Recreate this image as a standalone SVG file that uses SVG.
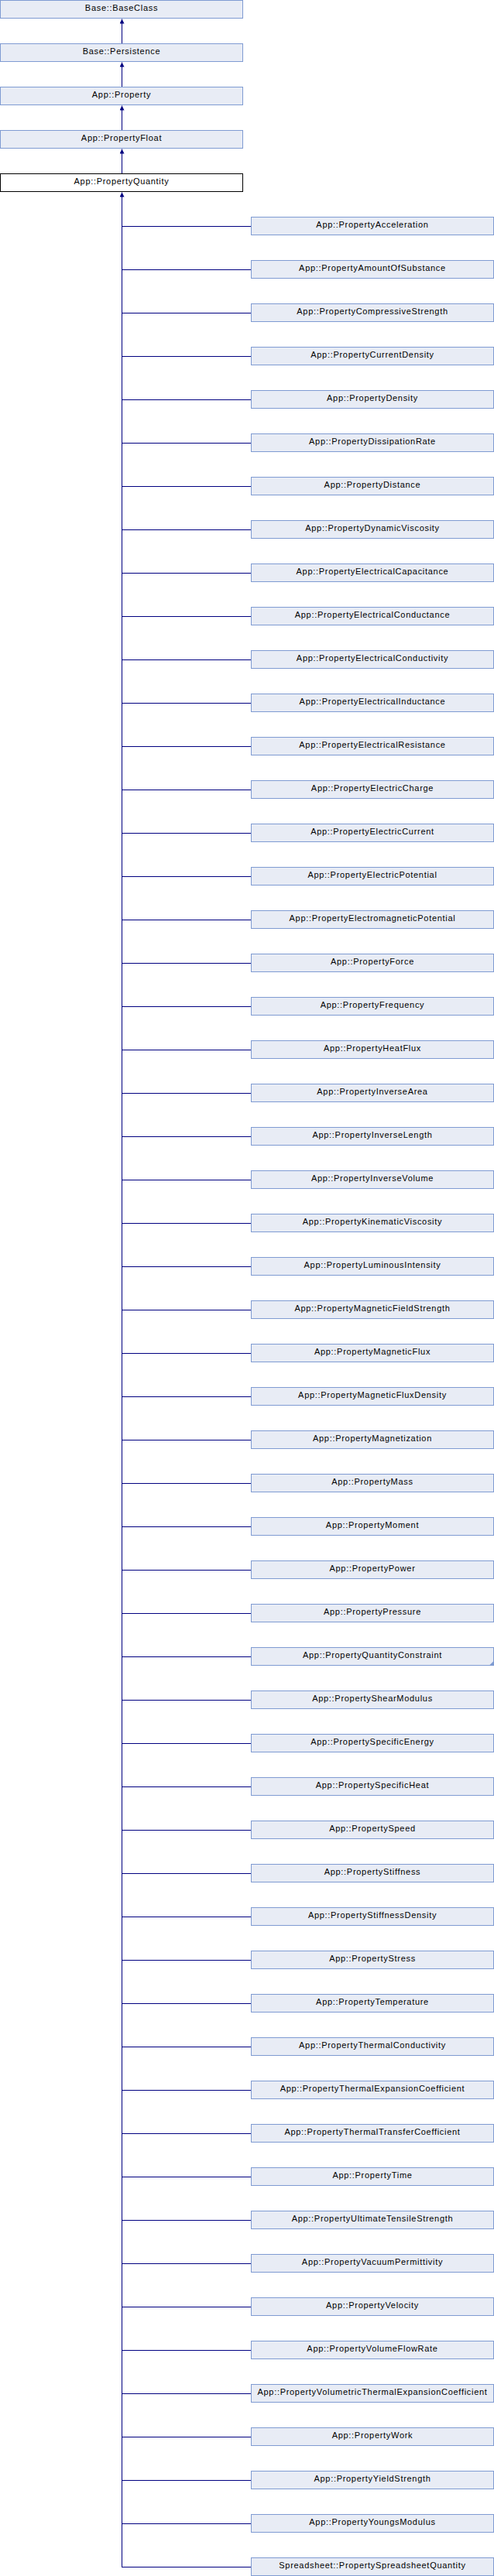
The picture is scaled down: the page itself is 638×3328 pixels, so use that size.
<svg xmlns="http://www.w3.org/2000/svg" width="638" height="3328" viewBox="0 0 638 3328">
<style>
.n rect{fill:#e8ecf5;stroke:#7f9bd2;stroke-width:1}
.n.cur rect{fill:#ffffff;stroke:#000000}
.n text{font-family:"Liberation Sans",Arial,sans-serif;font-size:11px;letter-spacing:0.7px;fill:#000;text-anchor:middle}
.c line{stroke:#000080;stroke-width:1;fill:none}
.fold{fill:#7f9bd2}
</style>
<defs>
<marker id="ah" markerWidth="6" markerHeight="7" refX="3" refY="0" orient="0" markerUnits="userSpaceOnUse" viewBox="0 0 6 7">
<path d="M0,6 L3,0 L6,6 Z" fill="#000080"/>
</marker>
</defs>
<g class="c" id="connectors">
<line x1="157.5" y1="80" x2="157.5" y2="24.5" marker-end="url(#ah)"/>
<line x1="157.5" y1="136" x2="157.5" y2="80.5" marker-end="url(#ah)"/>
<line x1="157.5" y1="192" x2="157.5" y2="136.5" marker-end="url(#ah)"/>
<line x1="157.5" y1="248" x2="157.5" y2="192.5" marker-end="url(#ah)"/>
<line x1="157.5" y1="3316.5" x2="157.5" y2="248.5" marker-end="url(#ah)"/>
<line x1="157" y1="292.5" x2="324" y2="292.5"/>
<line x1="157" y1="348.5" x2="324" y2="348.5"/>
<line x1="157" y1="404.5" x2="324" y2="404.5"/>
<line x1="157" y1="460.5" x2="324" y2="460.5"/>
<line x1="157" y1="516.5" x2="324" y2="516.5"/>
<line x1="157" y1="572.5" x2="324" y2="572.5"/>
<line x1="157" y1="628.5" x2="324" y2="628.5"/>
<line x1="157" y1="684.5" x2="324" y2="684.5"/>
<line x1="157" y1="740.5" x2="324" y2="740.5"/>
<line x1="157" y1="796.5" x2="324" y2="796.5"/>
<line x1="157" y1="852.5" x2="324" y2="852.5"/>
<line x1="157" y1="908.5" x2="324" y2="908.5"/>
<line x1="157" y1="964.5" x2="324" y2="964.5"/>
<line x1="157" y1="1020.5" x2="324" y2="1020.5"/>
<line x1="157" y1="1076.5" x2="324" y2="1076.5"/>
<line x1="157" y1="1132.5" x2="324" y2="1132.5"/>
<line x1="157" y1="1188.5" x2="324" y2="1188.5"/>
<line x1="157" y1="1244.5" x2="324" y2="1244.5"/>
<line x1="157" y1="1300.5" x2="324" y2="1300.5"/>
<line x1="157" y1="1356.5" x2="324" y2="1356.5"/>
<line x1="157" y1="1412.5" x2="324" y2="1412.5"/>
<line x1="157" y1="1468.5" x2="324" y2="1468.5"/>
<line x1="157" y1="1524.5" x2="324" y2="1524.5"/>
<line x1="157" y1="1580.5" x2="324" y2="1580.5"/>
<line x1="157" y1="1636.5" x2="324" y2="1636.5"/>
<line x1="157" y1="1692.5" x2="324" y2="1692.5"/>
<line x1="157" y1="1748.5" x2="324" y2="1748.5"/>
<line x1="157" y1="1804.5" x2="324" y2="1804.5"/>
<line x1="157" y1="1860.5" x2="324" y2="1860.5"/>
<line x1="157" y1="1916.5" x2="324" y2="1916.5"/>
<line x1="157" y1="1972.5" x2="324" y2="1972.5"/>
<line x1="157" y1="2028.5" x2="324" y2="2028.5"/>
<line x1="157" y1="2084.5" x2="324" y2="2084.5"/>
<line x1="157" y1="2140.5" x2="324" y2="2140.5"/>
<line x1="157" y1="2196.5" x2="324" y2="2196.5"/>
<line x1="157" y1="2252.5" x2="324" y2="2252.5"/>
<line x1="157" y1="2308.5" x2="324" y2="2308.5"/>
<line x1="157" y1="2364.5" x2="324" y2="2364.5"/>
<line x1="157" y1="2420.5" x2="324" y2="2420.5"/>
<line x1="157" y1="2476.5" x2="324" y2="2476.5"/>
<line x1="157" y1="2532.5" x2="324" y2="2532.5"/>
<line x1="157" y1="2588.5" x2="324" y2="2588.5"/>
<line x1="157" y1="2644.5" x2="324" y2="2644.5"/>
<line x1="157" y1="2700.5" x2="324" y2="2700.5"/>
<line x1="157" y1="2756.5" x2="324" y2="2756.5"/>
<line x1="157" y1="2812.5" x2="324" y2="2812.5"/>
<line x1="157" y1="2868.5" x2="324" y2="2868.5"/>
<line x1="157" y1="2924.5" x2="324" y2="2924.5"/>
<line x1="157" y1="2980.5" x2="324" y2="2980.5"/>
<line x1="157" y1="3036.5" x2="324" y2="3036.5"/>
<line x1="157" y1="3092.5" x2="324" y2="3092.5"/>
<line x1="157" y1="3148.5" x2="324" y2="3148.5"/>
<line x1="157" y1="3204.5" x2="324" y2="3204.5"/>
<line x1="157" y1="3260.5" x2="324" y2="3260.5"/>
<line x1="157" y1="3316.5" x2="324" y2="3316.5"/>
</g>
<g id="n_baseclass" class="n"><rect x="0.5" y="0.5" width="313" height="23"/><text x="157" y="14">Base::BaseClass</text></g>
<g id="n_persistence" class="n"><rect x="0.5" y="56.5" width="313" height="23"/><text x="157" y="70">Base::Persistence</text></g>
<g id="n_property" class="n"><rect x="0.5" y="112.5" width="313" height="23"/><text x="157" y="126">App::Property</text></g>
<g id="n_float" class="n"><rect x="0.5" y="168.5" width="313" height="23"/><text x="157" y="182">App::PropertyFloat</text></g>
<g id="n_quantity" class="n cur"><rect x="0.5" y="224.5" width="313" height="23"/><text x="157" y="238">App::PropertyQuantity</text></g>
<g id="c01" class="n"><rect x="324.5" y="280.5" width="313" height="23"/><text x="481" y="294">App::PropertyAcceleration</text></g>
<g id="c02" class="n"><rect x="324.5" y="336.5" width="313" height="23"/><text x="481" y="350">App::PropertyAmountOfSubstance</text></g>
<g id="c03" class="n"><rect x="324.5" y="392.5" width="313" height="23"/><text x="481" y="406">App::PropertyCompressiveStrength</text></g>
<g id="c04" class="n"><rect x="324.5" y="448.5" width="313" height="23"/><text x="481" y="462">App::PropertyCurrentDensity</text></g>
<g id="c05" class="n"><rect x="324.5" y="504.5" width="313" height="23"/><text x="481" y="518">App::PropertyDensity</text></g>
<g id="c06" class="n"><rect x="324.5" y="560.5" width="313" height="23"/><text x="481" y="574">App::PropertyDissipationRate</text></g>
<g id="c07" class="n"><rect x="324.5" y="616.5" width="313" height="23"/><text x="481" y="630">App::PropertyDistance</text></g>
<g id="c08" class="n"><rect x="324.5" y="672.5" width="313" height="23"/><text x="481" y="686">App::PropertyDynamicViscosity</text></g>
<g id="c09" class="n"><rect x="324.5" y="728.5" width="313" height="23"/><text x="481" y="742">App::PropertyElectricalCapacitance</text></g>
<g id="c10" class="n"><rect x="324.5" y="784.5" width="313" height="23"/><text x="481" y="798">App::PropertyElectricalConductance</text></g>
<g id="c11" class="n"><rect x="324.5" y="840.5" width="313" height="23"/><text x="481" y="854">App::PropertyElectricalConductivity</text></g>
<g id="c12" class="n"><rect x="324.5" y="896.5" width="313" height="23"/><text x="481" y="910">App::PropertyElectricalInductance</text></g>
<g id="c13" class="n"><rect x="324.5" y="952.5" width="313" height="23"/><text x="481" y="966">App::PropertyElectricalResistance</text></g>
<g id="c14" class="n"><rect x="324.5" y="1008.5" width="313" height="23"/><text x="481" y="1022">App::PropertyElectricCharge</text></g>
<g id="c15" class="n"><rect x="324.5" y="1064.5" width="313" height="23"/><text x="481" y="1078">App::PropertyElectricCurrent</text></g>
<g id="c16" class="n"><rect x="324.5" y="1120.5" width="313" height="23"/><text x="481" y="1134">App::PropertyElectricPotential</text></g>
<g id="c17" class="n"><rect x="324.5" y="1176.5" width="313" height="23"/><text x="481" y="1190">App::PropertyElectromagneticPotential</text></g>
<g id="c18" class="n"><rect x="324.5" y="1232.5" width="313" height="23"/><text x="481" y="1246">App::PropertyForce</text></g>
<g id="c19" class="n"><rect x="324.5" y="1288.5" width="313" height="23"/><text x="481" y="1302">App::PropertyFrequency</text></g>
<g id="c20" class="n"><rect x="324.5" y="1344.5" width="313" height="23"/><text x="481" y="1358">App::PropertyHeatFlux</text></g>
<g id="c21" class="n"><rect x="324.5" y="1400.5" width="313" height="23"/><text x="481" y="1414">App::PropertyInverseArea</text></g>
<g id="c22" class="n"><rect x="324.5" y="1456.5" width="313" height="23"/><text x="481" y="1470">App::PropertyInverseLength</text></g>
<g id="c23" class="n"><rect x="324.5" y="1512.5" width="313" height="23"/><text x="481" y="1526">App::PropertyInverseVolume</text></g>
<g id="c24" class="n"><rect x="324.5" y="1568.5" width="313" height="23"/><text x="481" y="1582">App::PropertyKinematicViscosity</text></g>
<g id="c25" class="n"><rect x="324.5" y="1624.5" width="313" height="23"/><text x="481" y="1638">App::PropertyLuminousIntensity</text></g>
<g id="c26" class="n"><rect x="324.5" y="1680.5" width="313" height="23"/><text x="481" y="1694">App::PropertyMagneticFieldStrength</text></g>
<g id="c27" class="n"><rect x="324.5" y="1736.5" width="313" height="23"/><text x="481" y="1750">App::PropertyMagneticFlux</text></g>
<g id="c28" class="n"><rect x="324.5" y="1792.5" width="313" height="23"/><text x="481" y="1806">App::PropertyMagneticFluxDensity</text></g>
<g id="c29" class="n"><rect x="324.5" y="1848.5" width="313" height="23"/><text x="481" y="1862">App::PropertyMagnetization</text></g>
<g id="c30" class="n"><rect x="324.5" y="1904.5" width="313" height="23"/><text x="481" y="1918">App::PropertyMass</text></g>
<g id="c31" class="n"><rect x="324.5" y="1960.5" width="313" height="23"/><text x="481" y="1974">App::PropertyMoment</text></g>
<g id="c32" class="n"><rect x="324.5" y="2016.5" width="313" height="23"/><text x="481" y="2030">App::PropertyPower</text></g>
<g id="c33" class="n"><rect x="324.5" y="2072.5" width="313" height="23"/><text x="481" y="2086">App::PropertyPressure</text></g>
<g id="c34" class="n"><rect x="324.5" y="2128.5" width="313" height="23"/><text x="481" y="2142">App::PropertyQuantityConstraint</text><path class="fold" d="M637.5,2146 L637.5,2151.5 L632,2151.5 Z"/></g>
<g id="c35" class="n"><rect x="324.5" y="2184.5" width="313" height="23"/><text x="481" y="2198">App::PropertyShearModulus</text></g>
<g id="c36" class="n"><rect x="324.5" y="2240.5" width="313" height="23"/><text x="481" y="2254">App::PropertySpecificEnergy</text></g>
<g id="c37" class="n"><rect x="324.5" y="2296.5" width="313" height="23"/><text x="481" y="2310">App::PropertySpecificHeat</text></g>
<g id="c38" class="n"><rect x="324.5" y="2352.5" width="313" height="23"/><text x="481" y="2366">App::PropertySpeed</text></g>
<g id="c39" class="n"><rect x="324.5" y="2408.5" width="313" height="23"/><text x="481" y="2422">App::PropertyStiffness</text></g>
<g id="c40" class="n"><rect x="324.5" y="2464.5" width="313" height="23"/><text x="481" y="2478">App::PropertyStiffnessDensity</text></g>
<g id="c41" class="n"><rect x="324.5" y="2520.5" width="313" height="23"/><text x="481" y="2534">App::PropertyStress</text></g>
<g id="c42" class="n"><rect x="324.5" y="2576.5" width="313" height="23"/><text x="481" y="2590">App::PropertyTemperature</text></g>
<g id="c43" class="n"><rect x="324.5" y="2632.5" width="313" height="23"/><text x="481" y="2646">App::PropertyThermalConductivity</text></g>
<g id="c44" class="n"><rect x="324.5" y="2688.5" width="313" height="23"/><text x="481" y="2702">App::PropertyThermalExpansionCoefficient</text></g>
<g id="c45" class="n"><rect x="324.5" y="2744.5" width="313" height="23"/><text x="481" y="2758">App::PropertyThermalTransferCoefficient</text></g>
<g id="c46" class="n"><rect x="324.5" y="2800.5" width="313" height="23"/><text x="481" y="2814">App::PropertyTime</text></g>
<g id="c47" class="n"><rect x="324.5" y="2856.5" width="313" height="23"/><text x="481" y="2870">App::PropertyUltimateTensileStrength</text></g>
<g id="c48" class="n"><rect x="324.5" y="2912.5" width="313" height="23"/><text x="481" y="2926">App::PropertyVacuumPermittivity</text></g>
<g id="c49" class="n"><rect x="324.5" y="2968.5" width="313" height="23"/><text x="481" y="2982">App::PropertyVelocity</text></g>
<g id="c50" class="n"><rect x="324.5" y="3024.5" width="313" height="23"/><text x="481" y="3038">App::PropertyVolumeFlowRate</text></g>
<g id="c51" class="n"><rect x="324.5" y="3080.5" width="313" height="23"/><text x="481" y="3094">App::PropertyVolumetricThermalExpansionCoefficient</text></g>
<g id="c52" class="n"><rect x="324.5" y="3136.5" width="313" height="23"/><text x="481" y="3150">App::PropertyWork</text></g>
<g id="c53" class="n"><rect x="324.5" y="3192.5" width="313" height="23"/><text x="481" y="3206">App::PropertyYieldStrength</text></g>
<g id="c54" class="n"><rect x="324.5" y="3248.5" width="313" height="23"/><text x="481" y="3262">App::PropertyYoungsModulus</text></g>
<g id="c55" class="n"><rect x="324.5" y="3304.5" width="313" height="23"/><text x="481" y="3318">Spreadsheet::PropertySpreadsheetQuantity</text></g>
</svg>
